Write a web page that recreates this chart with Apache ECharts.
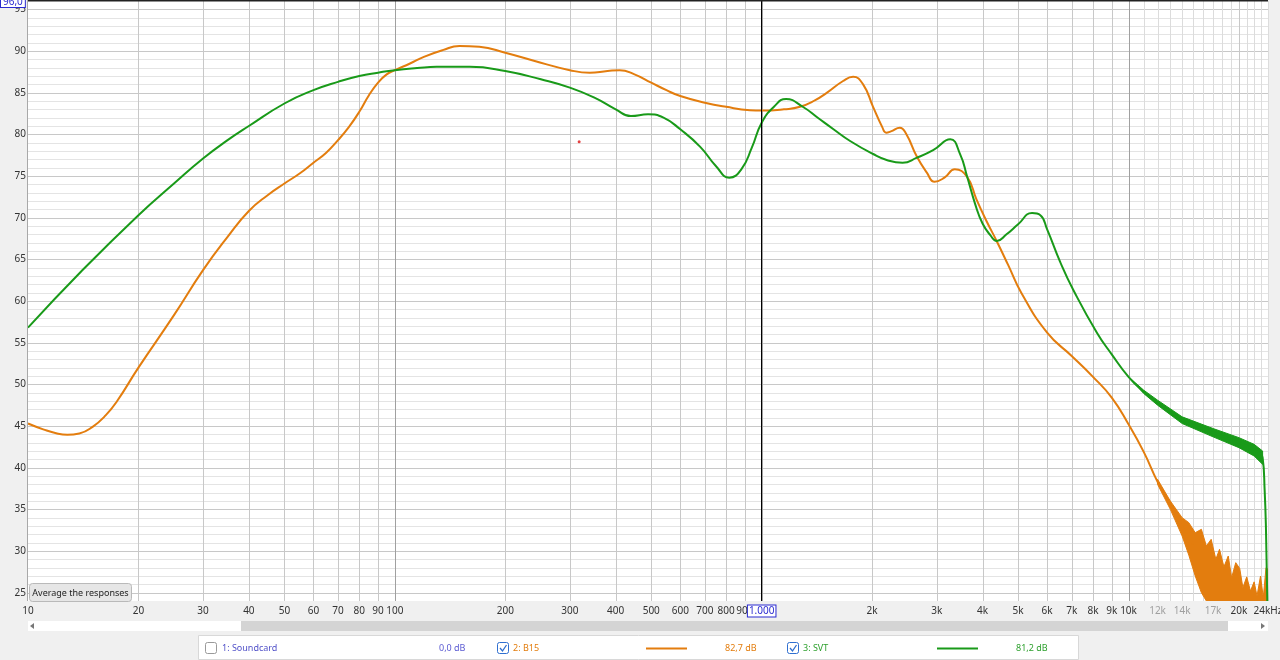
<!DOCTYPE html>
<html><head><meta charset="utf-8">
<script src="https://cdn.jsdelivr.net/npm/echarts@6/dist/echarts.min.js"></script>
<style>html,body{margin:0;padding:0;background:#f0f0f0;}#c{width:1280px;height:660px;}</style>
</head><body><div id="c"></div>
<script>
// ---------- data ----------
const X_MIN = 10, X_MAX = 24000, Y_MIN = 24, Y_MAX = 96;

const freqB15 = [10,11,12,12.8,13.8,15,16.3,17.5,20,25,30,35,40,45,50,55,60,65,70,75,80,85,90,95,100,110,120,135,150,170,200,250,300,340,380,410,450,500,550,600,700,800,929,1000,1150,1272,1400,1507,1667,1775,1890,2012,2130,2184,2250,2380,2480,2650,2820,2960,3150,3360,3630,3850,4100,4370,4700,5100,6000,7000,8000,9000,10000,11000,12000,13000,14000,15000];
const dbB15   = [45.3,44.6,44.1,43.95,44.1,44.9,46.3,48.0,52.0,58.3,63.7,67.7,70.8,72.7,74.1,75.3,76.6,77.8,79.3,80.9,82.7,84.7,86.2,87.2,87.7,88.5,89.3,90.1,90.6,90.5,89.8,88.6,87.7,87.4,87.6,87.7,87.2,86.2,85.3,84.6,83.8,83.3,82.9,82.85,83.0,83.3,84.1,85.0,86.4,86.9,86.0,83.3,80.9,80.2,80.35,80.8,80.0,77.3,75.4,74.3,74.8,75.8,74.9,72.2,69.6,67.2,64.3,61.0,56.2,53.4,50.9,48.4,45.2,41.9,38.3,35.5,32.9,30.8];

const freqSVT = [10,14,20,25,30,35,40,50,60,70,80,90,100,115,130,160,200,250,300,350,400,440,490,540,600,680,750,816,880,940,1000,1080,1165,1297,1425,1566,1742,2012,2200,2421,2650,2934,3266,3476,3627,3821,4000,4200,4373,4650,5000,5458,5750,6000,6510,7077,8200,9000,10000,11000,12000,14000,17000,20000,22000,23200,23500,23700,23900];
const dbSVT   = [56.8,63.6,70.3,74.1,77.1,79.3,81.0,83.7,85.3,86.3,87.0,87.4,87.7,87.95,88.1,88.1,87.6,86.6,85.6,84.4,83.0,82.2,82.4,82.0,80.6,78.5,76.2,74.8,75.8,78.4,81.4,83.3,84.24,83.28,81.96,80.64,79.2,77.64,76.9,76.6,77.2,78.1,79.4,77.6,75.0,71.6,69.3,67.9,67.2,68.0,69.2,70.56,70.3,68.6,64.7,61.3,56.2,53.6,50.9,49.1,47.8,45.7,44.2,43.0,42.1,41.2,37.3,32.5,24.0];

// noisy high-frequency envelopes
const bandSVTFreq = [10000,11000,12000,14000,17000,20000,22000,23200];
const bandSVTLow  = [50.9,48.9,47.5,45.3,43.7,42.4,41.4,40.4];
const bandSVTHigh = [50.9,49.3,48.1,46.1,44.7,43.6,42.8,42.0];

const bandB15Freq = [12000,13000,14000,14600,15200,15800,16300,16800,17300,17700,18200,18700,19100,19600,20100,20500,21000,21500,22000,22400,22900,23300,23700,24000];
const bandB15Low  = [38.0,35.0,31.8,29.5,27.0,25.0,24.0,23.0,23.0,23.0,23.0,23.0,23.0,23.0,23.0,23.0,23.0,23.0,23.0,23.0,23.0,23.0,23.0,23.0];
const bandB15High = [38.6,36.0,34.0,33.4,32.2,32.6,30.6,31.4,29.0,30.2,28.1,29.4,26.8,28.6,27.9,25.6,26.9,25.2,26.3,24.6,27.0,24.4,28.0,27.8];

const markerPoint = [318, 79.1];
const CURSOR_FREQ = 1000;

const xLabelFreqs = [10,20,30,40,50,60,70,80,90,100,200,300,400,500,600,700,800,900,1000,2000,3000,4000,5000,6000,7000,8000,9000,10000,12000,14000,17000,20000,24000];
const xLabelTexts = ['10','20','30','40','50','60','70','80','90','100','200','300','400','500','600','700','800','900','1.000','2k','3k','4k','5k','6k','7k','8k','9k','10k','12k','14k','17k','20k','24kHz'];
const xLabelMuted = ['12k','14k','17k'];

const yLabelValues = [25,30,35,40,45,50,55,60,65,70,75,80,85,90,95];

const vGridDecade = [20,30,40,50,60,70,80,90,200,300,400,500,600,700,800,900,2000,3000,4000,5000,6000,7000,8000,9000,20000];
const vGridFine = [11000,12000,13000,14000,15000,16000,17000,18000,19000,21000,22000,23000,24000];
const vGridMajor = [100,1000,10000];
const hGridValues = []; for (let v = 25; v <= 95; v++) hGridValues.push(v);

// ---------- chart ----------
const ORANGE = '#e37d0e', GREEN = '#199a19';
const FONT = '"Noto Sans", "DejaVu Sans", sans-serif';
const chart = echarts.init(document.getElementById('c'), null, {renderer: 'canvas'});

function vLineSeries(values, color, z) {
  return {
    type: 'custom', silent: true, z: z, clip: false,
    data: values.map(f => [f, Y_MIN]),
    renderItem: (p, api) => {
      const a = api.coord([api.value(0), Y_MIN]), b = api.coord([api.value(0), Y_MAX]);
      const x = Math.round(a[0]) + 0.5;
      return {type: 'line', shape: {x1: x, y1: a[1], x2: x, y2: b[1]}, style: {stroke: color, lineWidth: 1}};
    }
  };
}

function bandSeries(fr, lo, hi, color) {
  return {
    type: 'custom', silent: true, z: 4, clip: true,
    data: [[fr[0], lo[0]]],
    renderItem: (p, api) => {
      const pts = [];
      for (let i = 0; i < fr.length; i++) pts.push(api.coord([fr[i], hi[i]]));
      for (let i = fr.length - 1; i >= 0; i--) pts.push(api.coord([fr[i], lo[i]]));
      return {type: 'polygon', shape: {points: pts, smooth: 0}, style: {fill: color, stroke: color, lineWidth: 1}};
    }
  };
}

const option = {
  animation: false,
  backgroundColor: '#f0f0f0',
  grid: {left: 28, right: 12, top: 1, bottom: 59, show: true, backgroundColor: '#ffffff', borderWidth: 0},
  xAxis: {type: 'log', logBase: 10, min: X_MIN, max: X_MAX,
    axisLine: {show: false}, axisTick: {show: false}, axisLabel: {show: false}, splitLine: {show: false}, minorSplitLine: {show: false}},
  yAxis: {type: 'value', min: Y_MIN, max: Y_MAX,
    axisLine: {show: false}, axisTick: {show: false}, axisLabel: {show: false}, splitLine: {show: false}},
  series: [
    // horizontal grid
    {
      type: 'custom', silent: true, z: 1, clip: false,
      data: hGridValues.map(v => [X_MIN, v]),
      renderItem: (p, api) => {
        const v = api.value(1);
        const a = api.coord([X_MIN, v]), b = api.coord([X_MAX, v]);
        const y = Math.round(a[1]) + 0.5;
        return {type: 'line', shape: {x1: a[0], y1: y, x2: b[0], y2: y},
          style: {stroke: v % 5 === 0 ? '#c8c8c8' : '#e4e4e4', lineWidth: 1}};
      }
    },
    vLineSeries(vGridFine, '#dcdcdc', 2),
    vLineSeries(vGridDecade, '#c8c8c8', 2),
    vLineSeries(vGridMajor, '#a0a0a0', 2),
    // x labels
    {
      type: 'custom', silent: true, z: 10, clip: false,
      data: xLabelFreqs.map(f => [f, Y_MIN]),
      renderItem: (p, api) => {
        const a = api.coord([api.value(0), Y_MIN]);
        const t = xLabelTexts[p.dataIndex];
        const boxed = api.value(0) === CURSOR_FREQ;
        const style = {text: t, x: 0, y: 0, fill: xLabelMuted.includes(t) ? '#a0a0a0' : (boxed ? '#2b2bd0' : '#333333'),
          font: '10px ' + FONT, align: 'center', verticalAlign: 'middle'};
        if (boxed) { style.backgroundColor = '#ffffff'; style.borderColor = '#2b2bd0'; style.borderWidth = 1; style.padding = [1, 1, 0, 1]; }
        return {type: 'text', x: a[0], y: a[1] + 10, style: style};
      }
    },
    // y labels
    {
      type: 'custom', silent: true, z: 10, clip: false,
      data: yLabelValues.map(v => [X_MIN, v]),
      renderItem: (p, api) => {
        const a = api.coord([X_MIN, api.value(1)]);
        return {type: 'text', x: a[0] - 2, y: a[1], style: {text: String(api.value(1)), fill: '#333333',
          font: '10px ' + FONT, align: 'right', verticalAlign: 'middle'}};
      }
    },
    bandSeries(bandSVTFreq, bandSVTLow, bandSVTHigh, GREEN),
    bandSeries(bandB15Freq, bandB15Low, bandB15High, ORANGE),
    {
      name: '2: B15', type: 'line', z: 5, smooth: 0.5, symbol: 'none', clip: true,
      data: freqB15.map((f, i) => [f, dbB15[i]]),
      lineStyle: {color: ORANGE, width: 2}
    },
    {
      name: '3: SVT', type: 'line', z: 6, smooth: 0.5, symbol: 'none', clip: true,
      data: freqSVT.map((f, i) => [f, dbSVT[i]]),
      lineStyle: {color: GREEN, width: 2},
      markLine: {silent: true, symbol: 'none', label: {show: false}, z: 7,
        lineStyle: {color: '#000000', width: 1, type: 'solid'}, data: [{xAxis: CURSOR_FREQ}]}
    },
    {
      type: 'scatter', z: 8, symbolSize: 3, silent: true,
      data: [markerPoint], itemStyle: {color: '#dd1111'}
    }
  ],
  graphic: [
    // plot frame
    {type: 'line', z: 20, shape: {x1: 27.5, y1: 0, x2: 27.5, y2: 601}, style: {stroke: '#a8a8a8', lineWidth: 1}},
    {type: 'rect', z: 20, shape: {x: 28, y: 0, width: 1240, height: 1.5}, style: {fill: '#222222'}},
    // 96,0 box
    {type: 'text', z: 30, left: 0, top: -4, style: {text: '96,0', fill: '#2b2bd0', font: '10px ' + FONT,
      backgroundColor: '#ffffff', borderColor: '#2b2bd0', borderWidth: 1, padding: [0, 2, 0, 2]}},
    // Average the responses button
    {type: 'rect', z: 30, shape: {x: 29.5, y: 583.5, width: 102, height: 18, r: 3}, style: {fill: '#e6e6e6', stroke: '#b9b9b9', lineWidth: 1}},
    {type: 'text', z: 31, x: 80.5, y: 593, style: {text: 'Average the responses', fill: '#222222', font: '9px ' + FONT, align: 'center', verticalAlign: 'middle'}},
    // scrollbar
    {type: 'rect', z: 20, shape: {x: 28, y: 621, width: 1240, height: 10}, style: {fill: '#ffffff'}},
    {type: 'rect', z: 21, shape: {x: 241, y: 621, width: 987, height: 10}, style: {fill: '#d4d4d4'}},
    {type: 'polygon', z: 22, shape: {points: [[30, 626], [34, 623], [34, 629]]}, style: {fill: '#777777'}},
    {type: 'polygon', z: 22, shape: {points: [[1265, 626], [1261, 623], [1261, 629]]}, style: {fill: '#777777'}},
    // legend panel
    {type: 'rect', z: 20, shape: {x: 198.5, y: 635.5, width: 880, height: 24}, style: {fill: '#ffffff', stroke: '#d8d8d8', lineWidth: 1}},
    {type: 'rect', z: 21, shape: {x: 205.5, y: 642.5, width: 11, height: 11, r: 2}, style: {fill: '#ffffff', stroke: '#9a9a9a', lineWidth: 1}},
    {type: 'text', z: 21, x: 222, y: 648.5, style: {text: '1: Soundcard', fill: '#5050c8', font: '9px ' + FONT, verticalAlign: 'middle'}},
    {type: 'text', z: 21, x: 439, y: 648.5, style: {text: '0,0 dB', fill: '#5a5ad2', font: '9px ' + FONT, verticalAlign: 'middle'}},
    {type: 'rect', z: 21, shape: {x: 497.5, y: 642.5, width: 11, height: 11, r: 2}, style: {fill: '#ffffff', stroke: '#2f6fd0', lineWidth: 1}},
    {type: 'polyline', z: 22, shape: {points: [[500, 648], [502.5, 651], [506.5, 645]]}, style: {stroke: '#2f6fd0', lineWidth: 1.3, fill: null}},
    {type: 'text', z: 21, x: 513, y: 648.5, style: {text: '2: B15', fill: ORANGE, font: '9px ' + FONT, verticalAlign: 'middle'}},
    {type: 'line', z: 21, shape: {x1: 646, y1: 648.5, x2: 687, y2: 648.5}, style: {stroke: ORANGE, lineWidth: 2}},
    {type: 'text', z: 21, x: 725, y: 648.5, style: {text: '82,7 dB', fill: ORANGE, font: '9px ' + FONT, verticalAlign: 'middle'}},
    {type: 'rect', z: 21, shape: {x: 787.5, y: 642.5, width: 11, height: 11, r: 2}, style: {fill: '#ffffff', stroke: '#2f6fd0', lineWidth: 1}},
    {type: 'polyline', z: 22, shape: {points: [[790, 648], [792.5, 651], [796.5, 645]]}, style: {stroke: '#2f6fd0', lineWidth: 1.3, fill: null}},
    {type: 'text', z: 21, x: 803, y: 648.5, style: {text: '3: SVT', fill: '#2ea02e', font: '9px ' + FONT, verticalAlign: 'middle'}},
    {type: 'line', z: 21, shape: {x1: 937, y1: 648.5, x2: 978, y2: 648.5}, style: {stroke: GREEN, lineWidth: 2}},
    {type: 'text', z: 21, x: 1016, y: 648.5, style: {text: '81,2 dB', fill: '#2ea02e', font: '9px ' + FONT, verticalAlign: 'middle'}}
  ]
};
chart.setOption(option);
</script></body></html>
